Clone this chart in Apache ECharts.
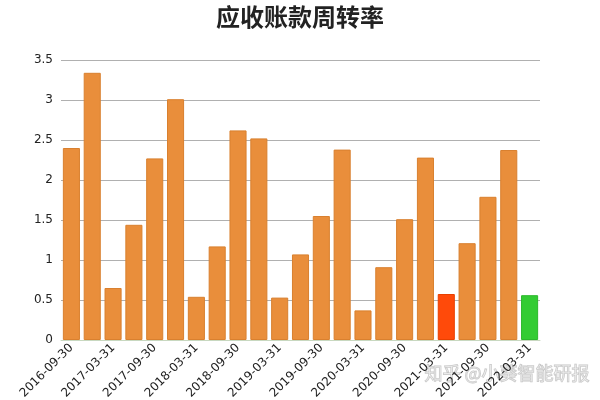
<!DOCTYPE html>
<html>
<head>
<meta charset="utf-8">
<script src="https://cdn.jsdelivr.net/npm/echarts@6/dist/echarts.min.js"></script>
<style>html,body{margin:0;padding:0;background:#fff}#c{width:600px;height:400px}</style>
</head>
<body>
<div id="c"></div>
<script>
var categories = ['2016-09-30','2016-12-31','2017-03-31','2017-06-30','2017-09-30','2017-12-31','2018-03-31','2018-06-30','2018-09-30','2018-12-31','2019-03-31','2019-06-30','2019-09-30','2019-12-31','2020-03-31','2020-06-30','2020-09-30','2020-12-31','2021-03-31','2021-06-30','2021-09-30','2021-12-31','2022-03-31'];
var values = [2.40,3.34,0.65,1.44,2.27,3.01,0.54,1.17,2.62,2.52,0.53,1.07,1.55,2.38,0.37,0.91,1.51,2.28,0.575,1.21,1.79,2.375,0.56];
var highlightRed = '2021-03-31';
var highlightGreen = '2022-03-31';
var titleText = '应收账款周转率';
var watermark = '知乎 @小葵智能研报';

var data = values.map(function(v,i){
  var c = categories[i];
  var col = '#e98e3b', bc = '#d9802f';
  if (c === highlightRed) { col = '#ff4a0a'; bc = '#e84000'; }
  if (c === highlightGreen) { col = '#33cc33'; bc = '#2cb82c'; }
  return {value: v, itemStyle: {color: col, borderColor: bc, borderWidth: 1}};
});

var chart = echarts.init(document.getElementById('c'));
chart.setOption({
  animation: false,
  title: {text: titleText, left: 'center', top: 0,
    textStyle: {fontFamily: 'Noto Sans CJK SC', fontSize: 24, fontWeight: 'bold', color: '#222'}},
  grid: {left: 61, right: 60, top: 60, bottom: 60, containLabel: false, outerBoundsMode: 'none'},
  xAxis: {
    type: 'category', data: categories,
    axisLine: {lineStyle: {color: '#c8d8c0'}},
    axisTick: {show: false},
    axisLabel: {interval: 1, rotate: 45, fontFamily: 'DejaVu Sans', fontSize: 12, color: '#222', margin: 6}
  },
  yAxis: {
    type: 'value', min: 0, max: 3.5, interval: 0.5,
    axisLine: {show: false}, axisTick: {show: false},
    axisLabel: {fontFamily: 'DejaVu Sans', fontSize: 12, color: '#222', margin: 8},
    splitLine: {lineStyle: {color: '#b0b0b0'}}
  },
  series: [{type: 'bar', data: data, barCategoryGap: '18%'}],
  graphic: [{type: 'text', left: 424, top: 364,
    style: {text: watermark, fontFamily: 'Noto Sans CJK SC', fontSize: 18,
      fill: 'rgba(255,255,255,0.3)', stroke: 'rgba(150,150,150,0.55)', lineWidth: 1}}]
});
</script>
</body>
</html>
